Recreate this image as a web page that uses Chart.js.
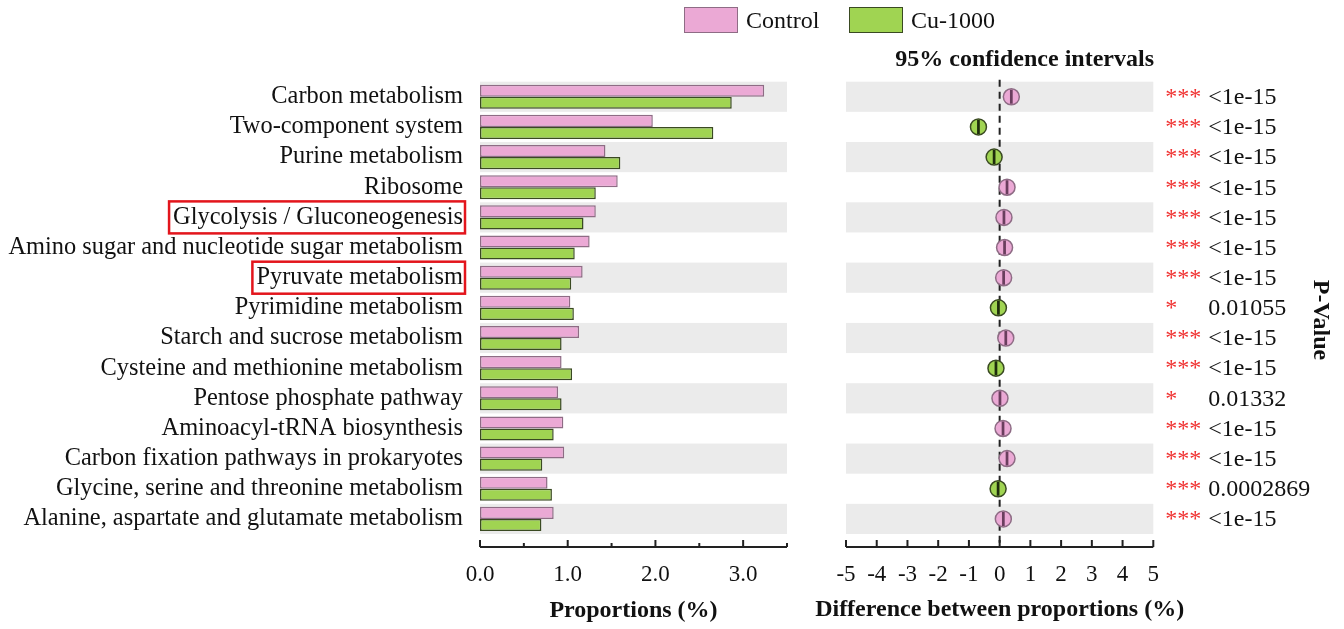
<!DOCTYPE html>
<html>
<head>
<meta charset="utf-8">
<title>Control vs Cu-1000</title>
<script src="https://cdn.jsdelivr.net/npm/chart.js"></script>
<style>
  body { margin: 0; background: #fff; }
  #wrap { position: relative; width: 1344px; height: 629px; overflow: hidden; font-family: 'Liberation Serif', 'Times New Roman', serif; color: #111; }
  .pane { position: absolute; top: 0; height: 629px; }
  .swatch { position: absolute; top: 7px; width: 54px; height: 26px; box-sizing: border-box; border: 1.5px solid; }
  .ltext { position: absolute; top: 7px; line-height: 26px; font-size: 24px; }
</style>
</head>
<body>
<div id="wrap">
  <div class="pane" style="left:0;width:820px"><canvas id="barChart"></canvas></div>
  <div class="pane" style="left:780px;width:564px"><canvas id="diffChart"></canvas></div>
  <div class="swatch" style="left:684px;background:#EBA9D5;border-color:#8E6C85"></div>
  <div class="ltext" style="left:746px">Control</div>
  <div class="swatch" style="left:849px;background:#A0D452;border-color:#3A4A22"></div>
  <div class="ltext" style="left:911px">Cu-1000</div>
</div>

<script>
// Data for the chart
const categories = [
    'Carbon metabolism',
    'Two-component system',
    'Purine metabolism',
    'Ribosome',
    'Glycolysis / Gluconeogenesis',
    'Amino sugar and nucleotide sugar metabolism',
    'Pyruvate metabolism',
    'Pyrimidine metabolism',
    'Starch and sucrose metabolism',
    'Cysteine and methionine metabolism',
    'Pentose phosphate pathway',
    'Aminoacyl-tRNA biosynthesis',
    'Carbon fixation pathways in prokaryotes',
    'Glycine, serine and threonine metabolism',
    'Alanine, aspartate and glutamate metabolism'
];
const controlValues = [3.24, 1.97, 1.43, 1.57, 1.32, 1.25, 1.17, 1.03, 1.13, 0.93, 0.89, 0.95, 0.96, 0.77, 0.84];
const cuValues      = [2.87, 2.66, 1.60, 1.32, 1.18, 1.08, 1.04, 1.07, 0.93, 1.05, 0.93, 0.84, 0.71, 0.82, 0.70];
const diffValues    = [0.38, -0.69, -0.18, 0.24, 0.14, 0.16, 0.13, -0.04, 0.20, -0.12, 0.01, 0.11, 0.24, -0.05, 0.12];
const ciLower       = [0.36, -0.71, -0.20, 0.22, 0.12, 0.14, 0.11, -0.06, 0.18, -0.14, -0.01, 0.09, 0.22, -0.07, 0.10];
const ciUpper       = [0.40, -0.67, -0.16, 0.26, 0.16, 0.18, 0.15, -0.02, 0.22, -0.10, 0.03, 0.13, 0.26, -0.03, 0.14];
const stars   = ['***', '***', '***', '***', '***', '***', '***', '*', '***', '***', '*', '***', '***', '***', '***'];
const pValues = ['<1e-15', '<1e-15', '<1e-15', '<1e-15', '<1e-15', '<1e-15', '<1e-15', '0.01055',
                 '<1e-15', '<1e-15', '0.01332', '<1e-15', '<1e-15', '0.0002869', '<1e-15'];
const highlighted = ['Glycolysis / Gluconeogenesis', 'Pyruvate metabolism'];
const propTicks = [0, 0.5, 1, 1.5, 2, 2.5, 3, 3.5];
const diffTicks = [-5, -4, -3, -2, -1, 0, 1, 2, 3, 4, 5];

const serif = "'Liberation Serif', 'Times New Roman', serif";
const PINK = '#EBA9D5', PINK_EDGE = '#8E6C85', PINK_LINE = '#6A3E5E';
const GREEN = '#A0D452', GREEN_EDGE = '#3A4A22', GREEN_LINE = '#1E2C0C';
const BAND = '#EBEBEB';
const LABEL_SIZE = 24.4;

// grey band behind every other row
const bandsPlugin = {
    id: 'bands',
    beforeDatasetsDraw(chart) {
        const { ctx, chartArea, scales: { y } } = chart;
        const rowH = (chartArea.bottom - chartArea.top) / categories.length;
        ctx.save();
        ctx.fillStyle = BAND;
        categories.forEach((c, i) => {
            if (i % 2 === 0) {
                ctx.fillRect(chartArea.left, y.getPixelForValue(i) - rowH / 2, chartArea.right - chartArea.left, rowH);
            }
        });
        ctx.restore();
    }
};

// x axis drawn a bit below the plot, ticks pointing up
const axisPlugin = {
    id: 'axisLine',
    afterDraw(chart) {
        const { ctx, chartArea, scales: { x } } = chart;
        const yAxis = chartArea.bottom + 13;
        ctx.save();
        ctx.strokeStyle = '#222';
        ctx.lineWidth = 2;
        ctx.beginPath();
        ctx.moveTo(chartArea.left, yAxis);
        ctx.lineTo(chartArea.right, yAxis);
        x.ticks.forEach(t => {
            const px = x.getPixelForValue(t.value);
            ctx.moveTo(px, yAxis);
            ctx.lineTo(px, yAxis - (Number.isInteger(t.value) ? 7 : 4));
        });
        ctx.stroke();
        ctx.restore();
    }
};

// red frames round the highlighted pathway names
const framePlugin = {
    id: 'frames',
    afterDraw(chart) {
        const { ctx, scales: { y } } = chart;
        const right = y.right - 17;
        ctx.save();
        ctx.font = LABEL_SIZE + 'px ' + serif;
        ctx.strokeStyle = '#E3151C';
        ctx.lineWidth = 2.5;
        highlighted.forEach(name => {
            const i = categories.indexOf(name);
            const w = ctx.measureText(name).width;
            const yc = y.getPixelForValue(i);
            ctx.strokeRect(right - w - 4, yc - 16, w + 6, 32);
        });
        ctx.restore();
    }
};

// dashed line at zero
const zeroPlugin = {
    id: 'zeroLine',
    beforeDatasetsDraw(chart) {
        const { ctx, chartArea, scales: { x } } = chart;
        const px = x.getPixelForValue(0);
        ctx.save();
        ctx.strokeStyle = '#222';
        ctx.lineWidth = 2;
        ctx.setLineDash([7, 5]);
        ctx.beginPath();
        ctx.moveTo(px, chartArea.top - 2);
        ctx.lineTo(px, chartArea.bottom + 13);
        ctx.stroke();
        ctx.restore();
    }
};

// confidence interval whiskers over the dots
const ciPlugin = {
    id: 'ci',
    afterDatasetsDraw(chart) {
        const { ctx, scales: { x, y } } = chart;
        ctx.save();
        ctx.lineWidth = 1.5;
        categories.forEach((c, i) => {
            const yc = y.getPixelForValue(i);
            const x0 = x.getPixelForValue(ciLower[i]);
            const x1 = x.getPixelForValue(ciUpper[i]);
            ctx.strokeStyle = diffValues[i] >= 0 ? PINK_LINE : GREEN_LINE;
            ctx.beginPath();
            ctx.moveTo(x0, yc); ctx.lineTo(x1, yc);
            ctx.moveTo(x0, yc - 7); ctx.lineTo(x0, yc + 7);
            ctx.moveTo(x1, yc - 7); ctx.lineTo(x1, yc + 7);
            ctx.stroke();
        });
        ctx.restore();
    }
};

// p-values, stars and headings of the right panel
const textPlugin = {
    id: 'pvalues',
    afterDraw(chart) {
        const { ctx, chartArea, scales: { x, y } } = chart;
        const r = chartArea.right;
        ctx.save();
        ctx.textBaseline = 'middle';
        ctx.textAlign = 'left';
        ctx.font = '24px ' + serif;
        categories.forEach((c, i) => {
            const yc = y.getPixelForValue(i);
            ctx.fillStyle = '#F0302F';
            ctx.fillText(stars[i], r + 12, yc + 1);
            ctx.fillStyle = '#111';
            ctx.fillText(pValues[i], r + 55, yc + 1);
        });
        ctx.textAlign = 'center';
        ctx.font = 'bold 24px ' + serif;
        ctx.fillText('95% confidence intervals', x.getPixelForValue(0) + 25, 60);
        // axis title is wider than the panel, so it is drawn here
        ctx.fillText('Difference between proportions (%)', (x.left + x.right) / 2, 610);
        ctx.translate(r + 167, 320);
        ctx.rotate(Math.PI / 2);
        ctx.fillText('P-Value', 0, 0);
        ctx.restore();
    }
};

const tickFont = { family: serif, size: 23 };
const titleFont = { family: serif, size: 24, weight: 'bold' };

// fixed axis height, and no extra room for edge labels
const fitX = s => {
    s.height = 95;
    s.paddingLeft = 0;
    s.paddingRight = 0;
};

// Left panel: proportions
new Chart(document.getElementById('barChart'), {
    type: 'bar',
    data: {
        labels: categories,
        datasets: [{
            label: 'Control',
            data: controlValues,
            backgroundColor: PINK,
            borderColor: PINK_EDGE,
            borderWidth: 1.5,
            borderSkipped: false,
            categoryPercentage: 0.8,
            barPercentage: 1.0
        }, {
            label: 'Cu-1000',
            data: cuValues,
            backgroundColor: GREEN,
            borderColor: GREEN_EDGE,
            borderWidth: 1.5,
            borderSkipped: false,
            categoryPercentage: 0.8,
            barPercentage: 1.0
        }]
    },
    options: {
        indexAxis: 'y',
        responsive: true,
        maintainAspectRatio: false,
        animation: false,
        layout: { padding: { top: 81.7, right: 33, left: 0, bottom: 0 } },
        plugins: { legend: { display: false }, tooltip: { enabled: false } },
        scales: {
            x: {
                min: 0,
                max: 3.5,
                afterBuildTicks: s => { s.ticks = propTicks.map(v => ({ value: v })); },
                afterFit: fitX,
                grid: { display: false, drawTicks: false },
                border: { display: false },
                ticks: {
                    autoSkip: false, maxRotation: 0, padding: 27, color: '#111', font: tickFont,
                    callback: v => Number.isInteger(v) ? v.toFixed(1) : ''
                },
                title: { display: true, text: 'Proportions (%)', color: '#111', font: titleFont, padding: { top: 0, bottom: 4 } }
            },
            y: {
                afterFit: s => { s.width = 480; },
                grid: { display: false, drawTicks: false },
                border: { display: false },
                ticks: { autoSkip: false, padding: 17, color: '#111', font: { family: serif, size: LABEL_SIZE } }
            }
        }
    },
    plugins: [bandsPlugin, axisPlugin, framePlugin]
});

// Right panel: difference with 95% CI
new Chart(document.getElementById('diffChart'), {
    type: 'scatter',
    data: {
        datasets: [{
            data: categories.map((c, i) => ({ x: diffValues[i], y: c })),
            pointRadius: 8,
            pointBackgroundColor: diffValues.map(d => d >= 0 ? PINK : GREEN),
            pointBorderColor: diffValues.map(d => d >= 0 ? PINK_EDGE : GREEN_EDGE),
            pointBorderWidth: 1.5
        }]
    },
    options: {
        responsive: true,
        maintainAspectRatio: false,
        animation: false,
        layout: { padding: { top: 81.7, right: 190.7, left: 66, bottom: 0 } },
        plugins: { legend: { display: false }, tooltip: { enabled: false } },
        scales: {
            x: {
                min: -5,
                max: 5,
                afterBuildTicks: s => { s.ticks = diffTicks.map(v => ({ value: v })); },
                afterFit: fitX,
                grid: { display: false, drawTicks: false },
                border: { display: false },
                ticks: { autoSkip: false, maxRotation: 0, padding: 27, color: '#111', font: tickFont, callback: v => String(v) }
            },
            y: { type: 'category', labels: categories, offset: true, display: false }
        }
    },
    plugins: [bandsPlugin, zeroPlugin, ciPlugin, axisPlugin, textPlugin]
});
</script>
</body>
</html>
